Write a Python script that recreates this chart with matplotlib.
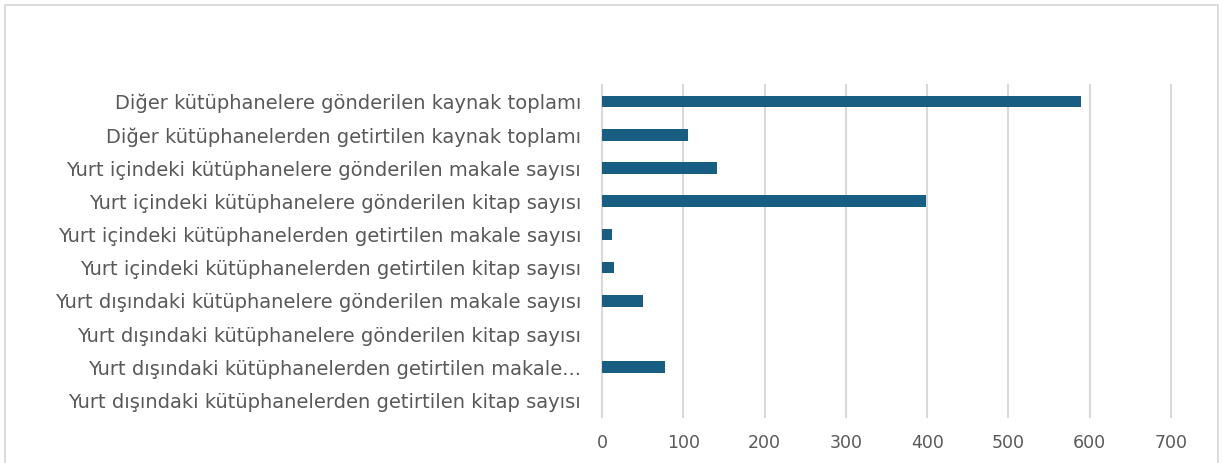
import matplotlib
matplotlib.use("Agg")
import matplotlib.pyplot as plt
from matplotlib.patches import Rectangle

categories = [
    "Diğer kütüphanelere gönderilen kaynak toplamı",
    "Diğer kütüphanelerden getirtilen kaynak toplamı",
    "Yurt içindeki kütüphanelere gönderilen makale sayısı",
    "Yurt içindeki kütüphanelere gönderilen kitap sayısı",
    "Yurt içindeki kütüphanelerden getirtilen makale sayısı",
    "Yurt içindeki kütüphanelerden getirtilen kitap sayısı",
    "Yurt dışındaki kütüphanelere gönderilen makale sayısı",
    "Yurt dışındaki kütüphanelere gönderilen kitap sayısı",
    "Yurt dışındaki kütüphanelerden getirtilen makale...",
    "Yurt dışındaki kütüphanelerden getirtilen kitap sayısı",
]
values = [589, 106, 141, 399, 12, 15, 50, 0, 78, 0]
xticks = [0, 100, 200, 300, 400, 500, 600, 700]

plt.rcParams['font.family'] = ['DejaVu Sans']

W, H = 1223, 463
fig = plt.figure(figsize=(W / 100, H / 100), dpi=100)
ax = fig.add_axes([602 / W, 1 - 417 / H, 569 / W, 332 / H])

bar_color = "#175E82"
text_color = "#595959"
grid_color = "#D9D9D9"

ypos = list(range(len(categories)))
ax.barh(ypos, values, height=0.35, color=bar_color, zorder=3)
ax.set_ylim(len(categories) - 0.5, -0.5)
ax.set_xlim(0, 700)
ax.set_yticks(ypos)
ax.set_yticklabels(categories, fontsize=14, color=text_color)
ax.set_xticks(xticks)
ax.set_xticklabels([str(t) for t in xticks], fontsize=12.5, color=text_color)
ax.tick_params(axis='both', length=0)
ax.tick_params(axis='y', pad=15)
ax.tick_params(axis='x', pad=12.5)
for s in ax.spines.values():
    s.set_visible(False)
ax.grid(axis='x', color=grid_color, linewidth=1.5, zorder=0)
ax.set_axisbelow(True)
for gl in ax.get_xgridlines():
    gl.set_clip_on(False)

fig.patches.append(Rectangle((5 / W, -0.05), 1213 / W, 1 - 5.5 / H + 0.05,
                             transform=fig.transFigure, fill=False,
                             edgecolor=grid_color, linewidth=1.3))

fig.savefig("out.png", dpi=100)
